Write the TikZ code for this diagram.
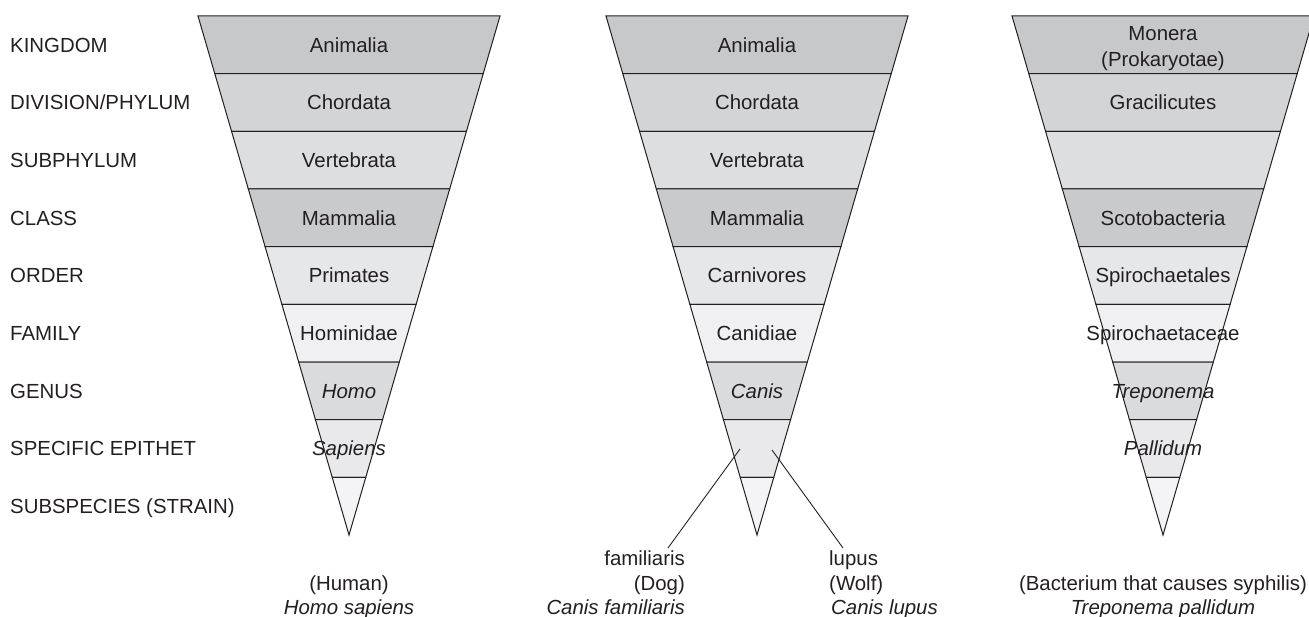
\documentclass[tikz,border=0pt]{standalone}
\usepackage{fontspec}
\setmainfont{Liberation Sans}
% band shades, top to bottom
\definecolor{bandA}{HTML}{C7C8CA}
\definecolor{bandB}{HTML}{D3D4D6}
\definecolor{bandC}{HTML}{DDDEE0}
\definecolor{bandD}{HTML}{C9CACC}
\definecolor{bandE}{HTML}{E6E7E9}
\definecolor{bandF}{HTML}{F0F0F2}
\definecolor{bandG}{HTML}{DADBDD}
\definecolor{bandH}{HTML}{E9E9EB}
\definecolor{bandI}{HTML}{F4F4F6}
\definecolor{ink}{HTML}{231F20}
% one inverted funnel of nine bands; #1 = centre x, #2 = prefix for the band baselines
\newcommand\drawfunnel[2]{%
  \foreach \i/\c in {0/bandA,1/bandB,2/bandC,3/bandD,4/bandE,5/bandF,6/bandG,7/bandH,8/bandI}{
    \pgfmathsetmacro\ya{16+\i*57.667}
    \pgfmathsetmacro\yb{16+(\i+1)*57.667}
    \pgfmathsetmacro\wa{0.29094*(535-\ya)}
    \pgfmathsetmacro\wb{max(0,0.29094*(535-\yb))}
    \filldraw[band, fill=\c] (#1-\wa,\ya) -- (#1+\wa,\ya) -- (#1+\wb,\yb) -- (#1-\wb,\yb) -- cycle;
    \pgfmathsetmacro\ym{(\ya+\yb)/2+7.3}
    \coordinate (#2\i) at (#1,\ym);
  }}
\begin{document}
\begin{tikzpicture}[x=1pt, y=-1pt,
  band/.style={draw=ink, line width=1pt},
  lbl/.style={font=\fontsize{20.4}{24.5}\selectfont, text=ink, inner sep=0pt, anchor=base},
  rank/.style={lbl, anchor=base west},
  it/.style={lbl, font=\fontsize{20.4}{24.5}\selectfont\itshape},
  leader/.style={draw=ink, line width=0.9pt}]
\useasboundingbox (0,0) rectangle (1309,617);

% rank names
\foreach \n/\t [count=\k from 0] in {kingdom/KINGDOM, division/{DIVISION/PHYLUM}, subphylum/SUBPHYLUM,
    class/CLASS, order/ORDER, family/FAMILY, genus/GENUS, epithet/SPECIFIC EPITHET,
    subspecies/SUBSPECIES (STRAIN)}{
  \pgfmathsetmacro\yy{16+(\k+0.5)*57.667+7.3}
  \node[rank] (r-\n) at (10,\yy) {\t};
}

% human
\drawfunnel{349}{h}
\node[lbl] (h-kingdom) at (h0) {Animalia};
\node[lbl] (h-phylum) at (h1) {Chordata};
\node[lbl] (h-subphylum) at (h2) {Vertebrata};
\node[lbl] (h-class) at (h3) {Mammalia};
\node[lbl] (h-order) at (h4) {Primates};
\node[lbl] (h-family) at (h5) {Hominidae};
\node[it] (h-genus) at (h6) {Homo};
\node[it] (h-species) at (h7) {Sapiens};
\node[lbl] (h-common) at (349,590) {(Human)};
\node[it] (h-binomial) at (349,614.5) {Homo sapiens};

% dog and wolf
\drawfunnel{757}{d}
\node[lbl] (d-kingdom) at (d0) {Animalia};
\node[lbl] (d-phylum) at (d1) {Chordata};
\node[lbl] (d-subphylum) at (d2) {Vertebrata};
\node[lbl] (d-class) at (d3) {Mammalia};
\node[lbl] (d-order) at (d4) {Carnivores};
\node[lbl] (d-family) at (d5) {Canidiae};
\node[it] (d-genus) at (d6) {Canis};
\node[lbl, anchor=base east] (dog-epithet) at (685,565.5) {familiaris};
\node[lbl, anchor=base east] (dog-common) at (685,590) {(Dog)};
\node[it, anchor=base east] (dog-binomial) at (685,614.5) {Canis familiaris};
\node[lbl, anchor=base west] (wolf-epithet) at (829,565.5) {lupus};
\node[lbl, anchor=base west] (wolf-common) at (829,590) {(Wolf)};
\node[it, anchor=base west] (wolf-binomial) at (831,614.5) {Canis lupus};
\coordinate (dog-in) at (740,449);
\coordinate (dog-out) at (668,548);
\coordinate (wolf-in) at (772,450);
\coordinate (wolf-out) at (843,548);
\draw[leader] (dog-in) -- (dog-out);
\draw[leader] (wolf-in) -- (wolf-out);

% bacterium
\drawfunnel{1163}{b}
\node[lbl] (b-kingdom-a) at (1163,40.3) {Monera};
\node[lbl] (b-kingdom-b) at (1163,66.5) {(Prokaryotae)};
\node[lbl] (b-phylum) at (b1) {Gracilicutes};
\node[lbl] (b-class) at (b3) {Scotobacteria};
\node[lbl] (b-order) at (b4) {Spirochaetales};
\node[lbl] (b-family) at (b5) {Spirochaetaceae};
\node[it] (b-genus) at (b6) {Treponema};
\node[it] (b-species) at (b7) {Pallidum};
\node[lbl] (b-common) at (1163,590) {(Bacterium that causes syphilis)};
\node[it] (b-binomial) at (1163,614.5) {Treponema pallidum};
\end{tikzpicture}
\end{document}
